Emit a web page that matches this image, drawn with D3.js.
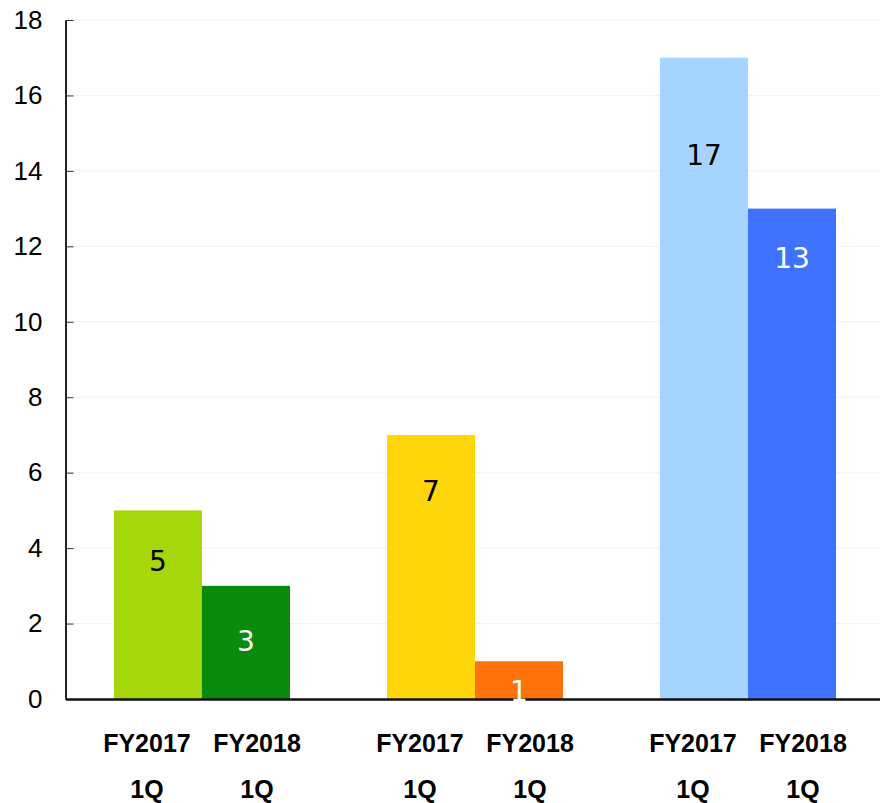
<!DOCTYPE html>
<html>
<head>
<meta charset="utf-8">
<script src="https://cdn.jsdelivr.net/npm/d3@7"></script>
<style>
  html, body { margin: 0; padding: 0; background: #fff; }
  svg { display: block; }
</style>
</head>
<body>
<svg id="chart" width="880" height="803"></svg>
<script>
// ---- data ----
const groups = ["G1", "G2", "G3"];
const series = ["FY2017", "FY2018"];
const periodLabel = ["1Q", "1Q"];
const values2017 = [5, 7, 17];
const values2018 = [3, 1, 13];
const colors2017 = ["#a6d70b", "#ffd60a", "#a5d5ff"];
const colors2018 = ["#0a8a0c", "#ff720a", "#3f72ff"];
const labelColors = ["#000000", "#ffffff"];
const yTicks = [0, 2, 4, 6, 8, 10, 12, 14, 16, 18];

// ---- layout ----
const W = 880, H = 803;
const mLeft = 65.5, mRight = 884.5, mTop = 20, mBottom = 699;
// value-label distance below bar top (px), as placed in the original
const labelDrop = [[51, 55], [56, 30], [97, 49]];
const svg = d3.select("#chart");

const y = d3.scaleLinear().domain([0, 18]).range([mBottom, mTop]);
const x0 = d3.scaleBand().domain(groups).range([mLeft, mRight]).paddingInner(0).paddingOuter(0);
const x1 = d3.scaleBand().domain(series).range([0, x0.bandwidth()]).paddingInner(0).paddingOuter(0.551);
const xl = d3.scaleBand().domain(series).range([0, x0.bandwidth()]).paddingInner(0).paddingOuter(0.24);

const rows = groups.map((g, i) => [
  { g, s: series[0], v: values2017[i], c: colors2017[i], lc: labelColors[0], drop: labelDrop[i][0] },
  { g, s: series[1], v: values2018[i], c: colors2018[i], lc: labelColors[1], drop: labelDrop[i][1] }
]);
const flat = rows.flat();

// gridlines
svg.append("g")
  .selectAll("line")
  .data(yTicks.filter(t => t > 0))
  .join("line")
  .attr("x1", mLeft).attr("x2", W)
  .attr("y1", d => y(d)).attr("y2", d => y(d))
  .attr("stroke", "#f3f3f3").attr("stroke-width", 1);

// bars
svg.append("g")
  .selectAll("rect")
  .data(flat)
  .join("rect")
  .attr("x", d => x0(d.g) + x1(d.s))
  .attr("width", x1.bandwidth())
  .attr("y", d => y(d.v))
  .attr("height", d => y(0) - y(d.v))
  .attr("fill", d => d.c);

// y axis
const yAxis = svg.append("g")
  .attr("transform", `translate(${mLeft},0)`)
  .call(d3.axisLeft(y).tickValues(yTicks).tickSizeInner(-8).tickSizeOuter(0).tickPadding(23));
yAxis.select(".domain").attr("stroke", "#222").attr("stroke-width", 2);
yAxis.selectAll(".tick line").attr("stroke", "#333").attr("stroke-width", 1);
yAxis.selectAll(".tick text")
  .attr("font-family", "'Liberation Sans', Arial, sans-serif")
  .attr("font-size", 26)
  .attr("fill", "#000");

// x axis line
const xAxis = svg.append("g")
  .attr("transform", `translate(0,${mBottom})`)
  .call(d3.axisBottom(x0).tickSize(0).tickFormat(""));
xAxis.select(".domain").attr("stroke", "#111").attr("stroke-width", 2.5);

// category labels (two lines)
const catG = svg.append("g")
  .attr("font-family", "'Liberation Sans', Arial, sans-serif")
  .attr("font-weight", "bold")
  .attr("font-size", 25)
  .attr("fill", "#000")
  .attr("text-anchor", "middle");
catG.selectAll("text.l1")
  .data(flat)
  .join("text")
  .attr("class", "l1")
  .attr("x", d => x0(d.g) + xl(d.s) + xl.bandwidth() / 2)
  .attr("y", 752)
  .text(d => d.s);
catG.selectAll("text.l2")
  .data(flat)
  .join("text")
  .attr("class", "l2")
  .attr("x", d => x0(d.g) + xl(d.s) + xl.bandwidth() / 2)
  .attr("y", 798)
  .text((d, i) => periodLabel[i % 2]);

// value labels
svg.append("g")
  .attr("font-family", "'DejaVu Sans', Verdana, sans-serif")
  .attr("font-size", 28)
  .attr("text-anchor", "middle")
  .selectAll("text")
  .data(flat)
  .join("text")
  .attr("x", d => x0(d.g) + x1(d.s) + x1.bandwidth() / 2)
  .attr("y", d => y(d.v) + d.drop)
  .attr("dy", "0.36em")
  .attr("fill", d => d.lc)
  .text(d => d.v);
</script>
</body>
</html>
